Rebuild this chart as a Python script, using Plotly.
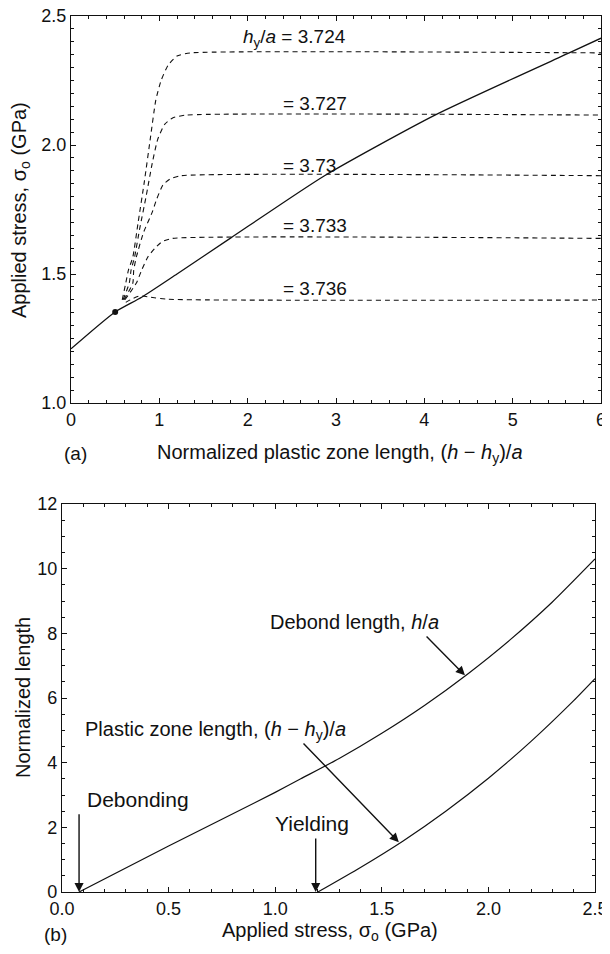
import plotly.graph_objects as go

# ---------- Panel (a) data ----------
solid_x = [0, 0.5, 0.8, 1.2, 1.81, 2.87, 4.12, 5.64, 6.0]
solid_y = [1.21, 1.353, 1.41, 1.50, 1.64, 1.881, 2.116, 2.357, 2.414]

dot_x = [0.5]
dot_y = [1.353]

hy_labels = ["3.724", "3.727", "3.73", "3.733", "3.736"]
dash_x = [
    [0.58, 0.62, 0.65, 0.70, 0.76, 0.83, 0.90, 0.96, 1.02, 1.10, 1.20, 1.35, 6.0],
    [0.59, 0.66, 0.68, 0.72, 0.78, 0.85, 0.92, 0.98, 1.06, 1.15, 1.30, 6.0],
    [0.60, 0.70, 0.71, 0.74, 0.82, 0.92, 0.97, 1.04, 1.12, 1.25, 6.0],
    [0.61, 0.74, 0.80, 0.87, 0.95, 1.03, 1.15, 6.0],
    [0.62, 0.70, 0.78, 0.90, 1.10, 6.0],
]
dash_y = [
    [1.40, 1.465, 1.515, 1.566, 1.70, 1.857, 2.03, 2.174, 2.25, 2.31, 2.345, 2.357, 2.357],
    [1.40, 1.465, 1.515, 1.566, 1.68, 1.80, 1.93, 2.02, 2.08, 2.105, 2.116, 2.116],
    [1.40, 1.465, 1.515, 1.566, 1.66, 1.74, 1.79, 1.845, 1.868, 1.881, 1.881],
    [1.40, 1.465, 1.515, 1.566, 1.60, 1.625, 1.638, 1.638],
    [1.39, 1.405, 1.415, 1.41, 1.402, 1.399],
]
label_y = [2.414, 2.159, 1.922, 1.687, 1.444]

# ---------- Panel (b) data ----------
debond_x = [0.08, 0.5, 1.0, 1.12, 1.3, 1.5, 1.7, 1.9, 2.1, 2.3, 2.5]
debond_y = [0.0, 1.42, 3.08, 3.5, 4.13, 4.91, 5.77, 6.73, 7.79, 8.97, 10.3]
plastic_x = [1.2, 1.4, 1.6, 1.8, 2.0, 2.2, 2.4, 2.5]
plastic_y = [0.0, 0.76, 1.58, 2.5, 3.52, 4.66, 5.92, 6.6]

FONT = "Liberation Sans, Arial, Helvetica, sans-serif"
BLACK = "#111111"

fig = go.Figure()

fig.add_trace(go.Scatter(x=solid_x, y=solid_y, mode="lines",
                         line=dict(color=BLACK, width=1.3, shape="spline", smoothing=0.6),
                         xaxis="x", yaxis="y", showlegend=False))
for xs, ys in zip(dash_x, dash_y):
    fig.add_trace(go.Scatter(x=xs, y=ys, mode="lines",
                             line=dict(color=BLACK, width=1.1, dash="5px,4px", shape="spline", smoothing=0.5),
                             xaxis="x", yaxis="y", showlegend=False))
fig.add_trace(go.Scatter(x=dot_x, y=dot_y, mode="markers",
                         marker=dict(color=BLACK, size=6),
                         xaxis="x", yaxis="y", showlegend=False))

fig.add_trace(go.Scatter(x=debond_x, y=debond_y, mode="lines",
                         line=dict(color=BLACK, width=1.2, shape="spline", smoothing=0.6),
                         xaxis="x2", yaxis="y2", showlegend=False))
fig.add_trace(go.Scatter(x=plastic_x, y=plastic_y, mode="lines",
                         line=dict(color=BLACK, width=1.2, shape="spline", smoothing=0.6),
                         xaxis="x2", yaxis="y2", showlegend=False))

# page has an 8px body margin: figure occupies window pixels 8..610 x 8..946
OFF = 8
W, H = 610 - OFF, 954 - 2 * OFF
def px_x(p):
    return (p - OFF) / W
def px_y(p):
    return (OFF + H - p) / H

axis_common = dict(showgrid=False, zeroline=False, showline=True, linecolor=BLACK,
                   linewidth=1.2, mirror="ticks", ticks="inside", ticklen=5,
                   tickcolor=BLACK, tickwidth=1, automargin=False,
                   ticklabeloverflow="allow",
                   tickfont=dict(family=FONT, size=18, color=BLACK))

fig.update_layout(
    width=W, height=H,
    margin=dict(l=0, r=0, t=0, b=0, autoexpand=False),
    paper_bgcolor="white", plot_bgcolor="white",
    xaxis=dict(axis_common, domain=[px_x(71), px_x(601)], range=[0, 6],
               tickvals=[0, 1, 2, 3, 4, 5, 6], anchor="y",
               minor=dict(dtick=0.2, ticks="inside", ticklen=3, tickcolor=BLACK)),
    yaxis=dict(axis_common, domain=[px_y(403), px_y(16)], range=[1.0, 2.5],
               tickvals=[1.0, 1.5, 2.0, 2.5], tickformat=".1f", anchor="x",
               minor=dict(dtick=0.05, ticks="inside", ticklen=3, tickcolor=BLACK)),
    xaxis2=dict(axis_common, domain=[px_x(62), px_x(595)], range=[0, 2.5],
                tickvals=[0, 0.5, 1.0, 1.5, 2.0, 2.5], tickformat=".1f", anchor="y2",
                minor=dict(dtick=0.1, ticks="inside", ticklen=3, tickcolor=BLACK)),
    yaxis2=dict(axis_common, domain=[px_y(892), px_y(504)], range=[0, 12],
                tickvals=[0, 2, 4, 6, 8, 10, 12], anchor="x2",
                minor=dict(dtick=0.5, ticks="inside", ticklen=3, tickcolor=BLACK)),
)

ann = []
def text(x, y, s, size=20, xref="x", yref="y", xanchor="left", angle=0):
    ann.append(dict(x=x, y=y, xref=xref, yref=yref, text=s, showarrow=False,
                    xanchor=xanchor, yanchor="middle", textangle=angle,
                    font=dict(family=FONT, size=size, color=BLACK)))

# panel (a) curve labels
text(1.92, label_y[0], "<i>h</i><sub>y</sub>/<i>a</i> = " + hy_labels[0], size=19)
for lab, yy in zip(hy_labels[1:], label_y[1:]):
    text(2.38, yy, "= " + lab, size=19)

# panel (a) axis titles
text(px_x(340), px_y(453), "Normalized plastic zone length, (<i>h</i> − <i>h</i><sub>y</sub>)/<i>a</i>",
     xref="paper", yref="paper", xanchor="center")
text(px_x(75), px_y(453), "(a)", size=19, xref="paper", yref="paper", xanchor="center")
text(px_x(20), px_y(210), "Applied stress, σ<sub>o</sub> (GPa)", xref="paper", yref="paper",
     xanchor="center", angle=-90)

# panel (b) axis titles
text(px_x(330), px_y(931), "Applied stress, σ<sub>o</sub> (GPa)", xref="paper", yref="paper",
     xanchor="center")
text(px_x(55), px_y(934), "(b)", size=19, xref="paper", yref="paper", xanchor="center")
text(px_x(23), px_y(698), "Normalized length", xref="paper", yref="paper",
     xanchor="center", angle=-90)

# panel (b) labels
text(0.966, 8.35, "Debond length, <i>h</i>/<i>a</i>", xref="x2", yref="y2")
text(0.0985, 5.01, "Plastic zone length, (<i>h</i> − <i>h</i><sub>y</sub>)/<i>a</i>", xref="x2", yref="y2")
text(0.108, 2.85, "Debonding", size=21, xref="x2", yref="y2")
text(0.99, 2.13, "Yielding", size=21, xref="x2", yref="y2")

def arrow(x0, y0, x1, y1):
    ann.append(dict(x=x1, y=y1, ax=x0, ay=y0, xref="x2", yref="y2", axref="x2", ayref="y2",
                    showarrow=True, arrowhead=2, arrowsize=1.3, arrowwidth=1.4,
                    arrowcolor=BLACK, text=""))

arrow(1.703, 7.95, 1.89, 6.70)
arrow(1.126, 4.64, 1.58, 1.54)
arrow(0.08, 2.45, 0.08, 0.0)
arrow(1.19, 1.70, 1.19, 0.0)

fig.update_layout(annotations=ann)
fig.write_html("out.html")
